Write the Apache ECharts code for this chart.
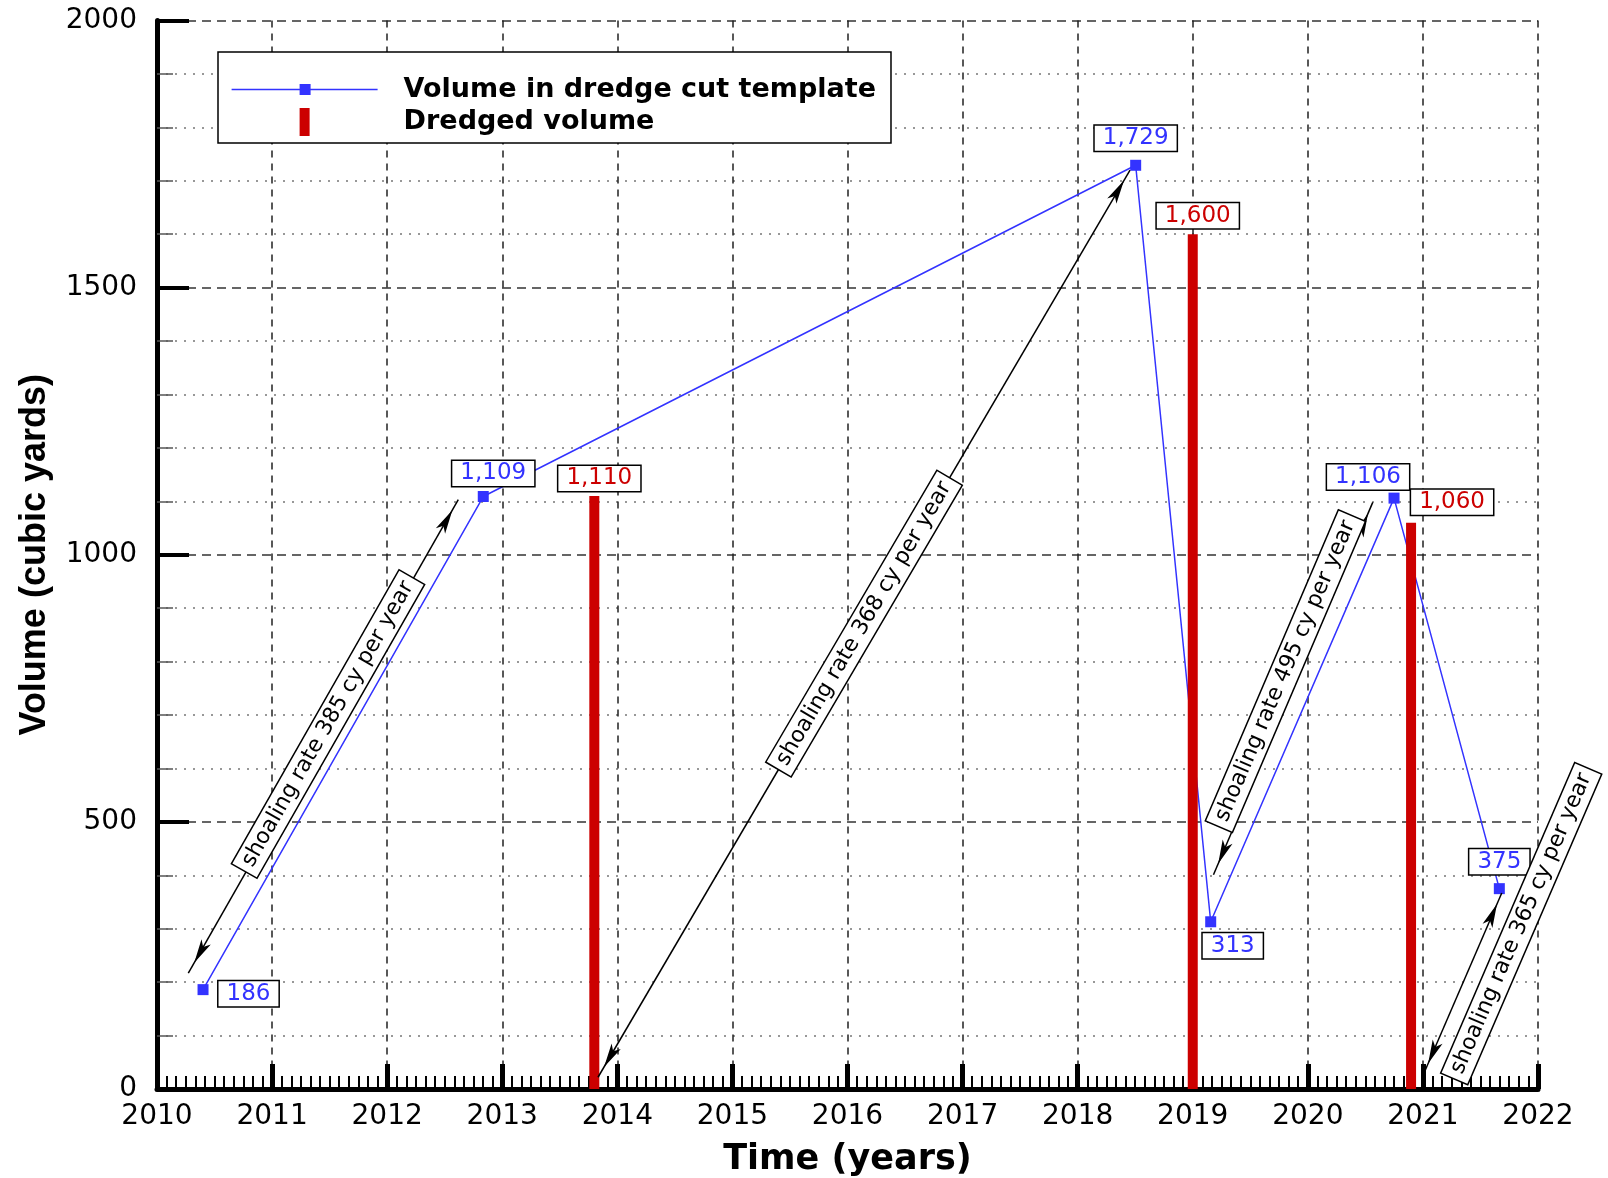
<!DOCTYPE html>
<html>
<head>
<meta charset="utf-8">
<script src="https://cdn.jsdelivr.net/npm/echarts@6/dist/echarts.min.js"></script>
<style>
  html, body { margin: 0; padding: 0; background: #fff; }
  #main { width: 1608px; height: 1178px; }
</style>
</head>
<body>
<div id="main"></div>
<script>
// volume in dredge cut template (survey dates, cubic yards)
const volDates = [2010.40, 2012.835, 2018.504, 2019.156, 2020.749, 2021.664]
const volValues = [186, 1109, 1729, 313, 1106, 375]
// dredged volume
const dredgeDates = [2013.80, 2019.00, 2020.897]
const dredgeValues = [1110, 1600, 1060]
// axis ranges
const yearMin = 2010
const yearMax = 2022
const volMin = 0
const volMax = 2000
// shoaling rate arrows
const rateTexts = [
  'shoaling rate 385 cy per year',
  'shoaling rate 368 cy per year',
  'shoaling rate 495 cy per year',
  'shoaling rate 365 cy per year'
]
const rateFrom = [[2010.272, 217], [2013.832, 22], [2019.18, 401], [2021.004, 27]]
const rateTo = [[2012.618, 1103], [2018.455, 1720], [2020.564, 1098], [2021.685, 367]]

// label placement (layout only)
const volLabelPos = [
  { position: 'right', distance: 10, offset: [0, 4] },
  { position: 'top', distance: 5, offset: [10, 0] },
  { position: 'top', distance: 9 },
  { position: 'bottom', distance: 6, offset: [22, 0] },
  { position: 'top', distance: 3, offset: [-26, 0] },
  { position: 'top', distance: 9 }
]
const dredgeLabelPos = [
  { position: 'top', distance: 5, offset: [5, 0] },
  { position: 'top', distance: 6, offset: [5, 0] },
  { position: 'top', distance: 8, offset: [41, 0] }
]
const rateLabelPos = [
  { position: 'insideEndTop', distance: [91, -12] },
  { position: 'insideMiddle' },
  { position: 'insideEndTop', distance: [21, 0] },
  { position: 'insideEndBottom', distance: [-148, 16] }
]

const BLUE = '#3333ff'
const RED = '#cc0000'
const fmt = (p) => Number(p.value[1]).toLocaleString('en-US')
const boxLabel = {
  show: true,
  formatter: fmt,
  fontFamily: 'DejaVu Sans',
  fontSize: 23,
  backgroundColor: '#fff',
  borderColor: '#000',
  borderWidth: 1.5,
  padding: [1, 8]
}
// arrow head at each end of the shoaling arrows
const arrowEnd = { symbol: 'arrow', symbolSize: [8, 24], symbolOffset: [0, 12] }

const myChart = echarts.init(document.getElementById('main'))
const option = {
  animation: false,
  textStyle: { fontFamily: 'DejaVu Sans' },
  grid: { left: 157, right: 70, top: 20.5, bottom: 89, containLabel: false, outerBoundsMode: 'none' },
  legend: {
    orient: 'vertical',
    left: 218,
    top: 52,
    padding: [24, 15, 7, 13.6],
    itemWidth: 146,
    itemHeight: 28,
    itemGap: 5,
    borderColor: '#000',
    borderWidth: 1.5,
    backgroundColor: '#fff',
    selectedMode: false,
    textStyle: {
      fontFamily: 'DejaVu Sans',
      fontSize: 27,
      fontWeight: 'bold',
      color: '#000',
      padding: [0, 0, 0, 21]
    },
    data: [
      {
        name: 'Volume in dredge cut template',
        icon: 'path://M0,4.75h146v1.5h-146z M68,0h11v11h-11z',
        itemStyle: { color: BLUE, borderWidth: 0 }
      },
      {
        name: 'Dredged volume',
        icon: 'path://M0,0h10v28h-10z',
        itemStyle: { color: RED, borderWidth: 0 }
      }
    ]
  },
  xAxis: {
    type: 'value',
    min: yearMin,
    max: yearMax,
    interval: 1,
    name: 'Time (years)',
    nameLocation: 'middle',
    nameGap: 53,
    nameTextStyle: { fontFamily: 'DejaVu Sans', fontSize: 35, fontWeight: 'bold', color: '#000' },
    axisLine: { show: true, lineStyle: { color: '#000', width: 5 } },
    axisTick: { show: true, inside: true, length: 25, lineStyle: { color: '#000', width: 5 } },
    minorTick: { show: true, splitNumber: 12, length: 13, lineStyle: { color: '#000', width: 2 } },
    axisLabel: { formatter: (v) => String(v), fontSize: 28, color: '#000', margin: 14 },
    splitLine: { show: true, lineStyle: { color: '#222', width: 1.5, type: [7, 6] } },
    minorSplitLine: { show: false }
  },
  yAxis: {
    type: 'value',
    min: volMin,
    max: volMax,
    interval: 500,
    name: 'Volume (cubic yards)',
    nameLocation: 'middle',
    nameRotate: 90,
    nameGap: 104,
    nameTextStyle: { fontFamily: 'Liberation Sans', fontSize: 36, fontWeight: 'bold', color: '#000' },
    axisLine: { show: true, lineStyle: { color: '#000', width: 5 } },
    axisTick: { show: true, inside: true, length: 32, lineStyle: { color: '#000', width: 4 } },
    minorTick: { show: true, splitNumber: 5, length: 16, lineStyle: { color: '#555', width: 1.5 } },
    axisLabel: { formatter: (v) => String(v), fontSize: 28, color: '#000', margin: 20 },
    splitLine: { show: true, lineStyle: { color: '#333', width: 1.5, type: [9, 6] } },
    minorSplitLine: { show: true, lineStyle: { color: '#777', width: 1.5, type: [2, 7] } }
  },
  series: [
    {
      name: 'Volume in dredge cut template',
      type: 'line',
      z: 2,
      symbol: 'rect',
      symbolSize: 11,
      itemStyle: { color: BLUE, borderWidth: 0 },
      lineStyle: { color: BLUE, width: 1.5 },
      label: Object.assign({}, boxLabel, { color: BLUE }),
      data: volDates.map((d, i) => ({ value: [d, volValues[i]], label: volLabelPos[i] })),
      markLine: {
        silent: true,
        symbol: 'arrow',
        symbolSize: [8, 24],
        lineStyle: { color: '#000', width: 1.5, type: 'solid' },
        emphasis: { disabled: true },
        label: {
          show: true,
          fontFamily: 'DejaVu Sans',
          fontSize: 22,
          color: '#000',
          backgroundColor: '#fff',
          borderColor: '#000',
          borderWidth: 1.5,
          padding: [3, 6]
        },
        data: rateTexts.map((t, i) => [
          Object.assign({ coord: rateFrom[i], label: Object.assign({ formatter: t }, rateLabelPos[i]) }, arrowEnd),
          Object.assign({ coord: rateTo[i] }, arrowEnd)
        ])
      }
    },
    {
      name: 'Dredged volume',
      type: 'bar',
      z: 3,
      barWidth: 10,
      itemStyle: { color: RED },
      label: Object.assign({}, boxLabel, { color: RED }),
      data: dredgeDates.map((d, i) => ({ value: [d, dredgeValues[i]], label: dredgeLabelPos[i] }))
    }
  ]
}
myChart.setOption(option)
</script>
</body>
</html>
